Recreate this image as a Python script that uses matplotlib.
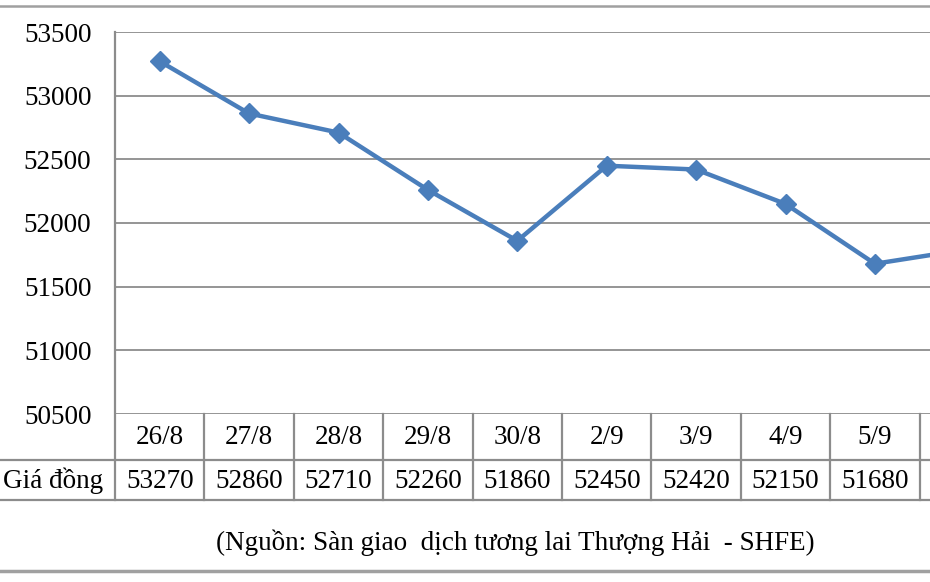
import matplotlib
matplotlib.use("Agg")
import matplotlib.pyplot as plt
from matplotlib.lines import Line2D

# dates (last column is cut off at the right edge of the picture)
dates = ['26/8', '27/8', '28/8', '29/8', '30/8', '2/9', '3/9', '4/9', '5/9', '6/9']
gia_dong = [53270, 52860, 52710, 52260, 51860, 52450, 52420, 52150, 51680, 51790]
yticks = [50500, 51000, 51500, 52000, 52500, 53000, 53500]
row_label = 'Giá đồng'
source = '(Nguồn: Sàn giao  dịch tương lai Thượng Hải  - SHFE)'

plt.rcParams['font.family'] = ['Liberation Serif', 'DejaVu Serif']

W, H = 930, 582
fig = plt.figure(figsize=(W / 100, H / 100), dpi=100)

def fx(px):
    return px / W

def fy(py):
    return 1 - py / H

left, top, bottom = 115, 32, 414
colw = 89.4
ncol = len(dates)
fs = 19.5
ax = fig.add_axes([fx(left), fy(bottom), fx(colw * ncol), fy(top) - fy(bottom)])
ax.set_xlim(-0.5, ncol - 0.5)
ax.set_ylim(yticks[0], yticks[-1])

grid_c = '#8c8c8c'
for v in yticks:
    ax.axhline(v, color=grid_c, lw=1.3, zorder=1)
for s in ax.spines.values():
    s.set_visible(False)
ax.set_xticks([])
ax.set_yticks(yticks)
ax.tick_params(axis='y', length=0, pad=17, labelsize=fs)

ax.plot(range(ncol), gia_dong, color='#4a7ebb', lw=3.2, marker='D', ms=10,
        zorder=3, clip_on=False)

# table under the plot (pixel layout)
row1, row2 = 460, 500
lines = []
lines.append(Line2D([fx(left), fx(left)], [fy(top), fy(row2)]))
lines.append(Line2D([0, 1], [fy(row1), fy(row1)]))
lines.append(Line2D([0, 1], [fy(row2), fy(row2)]))
for i in range(1, ncol + 1):
    x = fx(left + colw * i)
    lines.append(Line2D([x, x], [fy(bottom), fy(row2)]))
for ln in lines:
    ln.set_color(grid_c)
    ln.set_linewidth(1.6)
    fig.add_artist(ln)
fig.add_artist(Line2D([0, 1], [fy(6), fy(6)], lw=1.8, color='#a0a0a0'))
fig.add_artist(Line2D([0, 1], [fy(571), fy(571)], lw=2.5, color='#a0a0a0'))

for i, (d, v) in enumerate(zip(dates, gia_dong)):
    x = fx(left + colw * (i + 0.5))
    if x > 1:
        continue  # column lies past the picture's right edge
    fig.text(x, fy(437), d, ha='center', va='center', fontsize=fs)
    fig.text(x, fy(481), str(v), ha='center', va='center', fontsize=fs)
fig.text(fx(3), fy(481), row_label, ha='left', va='center', fontsize=fs)

fig.text(fx(515), fy(543), source, ha='center', va='center', fontsize=19.5)

fig.savefig('out.png', dpi=100)
